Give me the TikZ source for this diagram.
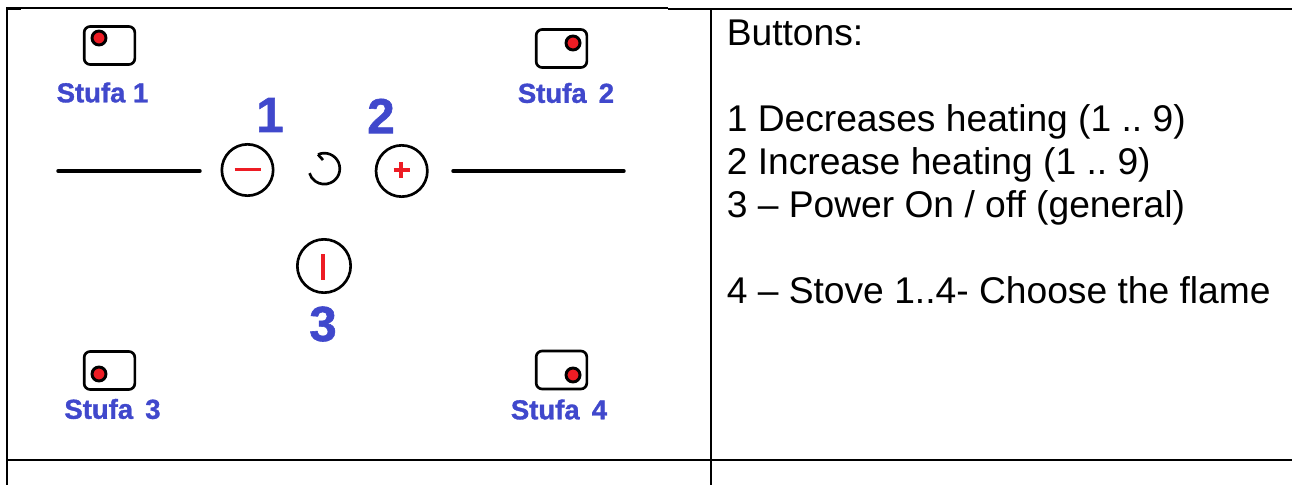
\documentclass[tikz,border=0pt]{standalone}
\usepackage{fontspec}
\setmainfont{Liberation Sans}
\newfontfamily\heavyfont{Liberation Sans}[UprightFont=* Bold,UprightFeatures={FakeBold=1.2}]
\definecolor{stufablue}{RGB}{64,72,204}
\definecolor{dotred}{RGB}{237,28,36}
\tikzset{
  grid line/.style={line width=1.5pt},
  burner box/.style={draw,line width=2pt,rounded corners=4.5pt,minimum width=38pt,minimum height=28.5pt,inner sep=0pt},
  burner dot/.style={circle,draw,line width=2.2pt,fill=dotred,minimum size=10.5pt,inner sep=0pt},
  touch key/.style={circle,draw,line width=2pt,minimum size=38.5pt,inner sep=0pt},
  stufa label/.style={inner sep=0pt,text=stufablue,font=\fontsize{20.6}{23}\heavyfont},
  key number/.style={inner sep=0pt,text=stufablue,font=\fontsize{37}{40}\heavyfont},
  info text/.style={anchor=base west,inner sep=0pt,font=\fontsize{27.9}{32}\selectfont\frenchspacing},
  red mark/.style={draw=dotred,line width=2.3pt},
  heat line/.style={line width=2.6pt,line cap=round}
}
\begin{document}
\begin{tikzpicture}[x=0.75pt,y=0.75pt,yscale=-1,xscale=1]
\useasboundingbox (0,0) rectangle (1292,485);

%Table lines
\draw [grid line] (6,8.5) -- (668,8.5) ;
\draw [grid line] (7,9.5) -- (21,9.5) ;
\draw [grid line] (668,9.5) -- (1292,9.5) ;
\draw [grid line] (7,8.5) -- (7,485) ;
\draw [grid line] (711,8.5) -- (711,485) ;
\draw [grid line] (7,460) -- (1292,460) ;

%Stove boxes
\node (boxa) at (109.5,45.5) [burner box] {};
\node (boxb) at (561.5,48.5) [burner box] {};
\node (boxc) at (109.5,370.5) [burner box] {};
\node (boxd) at (561.5,370) [burner box] {};
\node (dota) at (99,38) [burner dot] {};
\node (dotb) at (573,43) [burner dot] {};
\node (dotc) at (99,374) [burner dot] {};
\node (dotd) at (573,375) [burner dot] {};

%Keys
\node (minuskey) at (247.5,170) [touch key] {};
\node (pluskey) at (401.7,171) [touch key] {};
\node (powerkey) at (324,266) [touch key,minimum size=40pt] {};
\draw [red mark] (234.5,169.5) -- (261,169.5) ;
\draw [red mark,line width=3.6pt] (393.5,170) -- (409.5,170) ;
\draw [red mark,line width=3.6pt] (401,162) -- (401,178) ;
\draw [red mark] (323,254) -- (323,279.5) ;

%Timer ring
\draw [line width=2pt] (318,154.5) -- (323,160) ;
\draw [line width=2pt] (318,154.5) arc (-114:163:15.5) ;

%Slider lines
\coordinate (lefta) at (58,171);
\coordinate (leftb) at (200,171);
\coordinate (righta) at (453,171);
\coordinate (rightb) at (624,171);
\draw [heat line] (lefta) -- (leftb) ;
\draw [heat line] (righta) -- (rightb) ;

% Text Node
\node (stufaa) at (102.5,92.5) [stufa label] {Stufa 1};
\node (stufab) at (566,93) [stufa label] {Stufa\, 2};
\node (stufac) at (112.5,409) [stufa label] {Stufa\, 3};
\node (stufad) at (559,409.5) [stufa label] {Stufa\, 4};
\node (numa) at (270,115) [key number] {1};
\node (numb) at (381,116) [key number] {2};
\node (numc) at (323,324) [key number] {3};
\node (infoa) at (726.5,46) [info text] {Buttons:};
\node (infob) at (726.5,131) [info text] {1 Decreases heating (1 .. 9)};
\node (infoc) at (726.5,174) [info text] {2 Increase heating (1 .. 9)};
\node (infod) at (726.5,217) [info text] {3 – Power On / off (general)};
\node (infoe) at (726.5,303) [info text] {4 – Stove 1..4- Choose the flame};
\end{tikzpicture}
\end{document}
